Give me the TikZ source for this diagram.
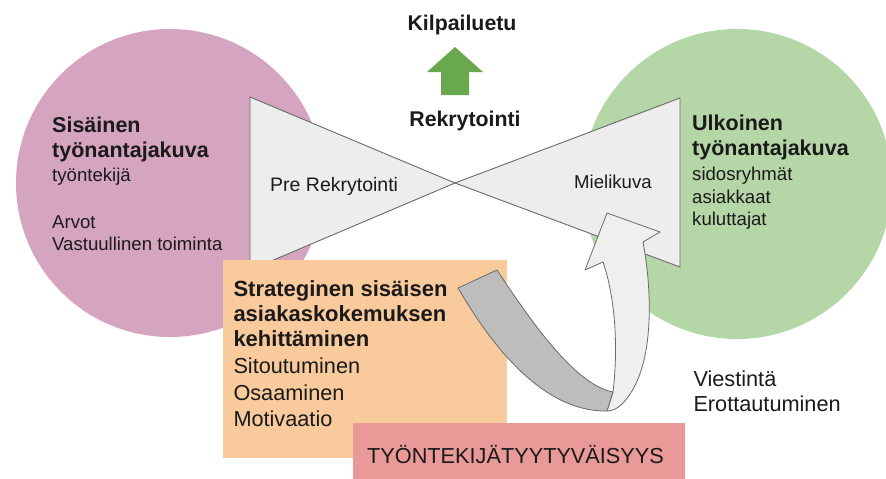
\documentclass[tikz,border=0pt]{standalone}
\usepackage{fontspec}
\setmainfont{Liberation Sans}
\definecolor{ink}{HTML}{1A1A1A}
\definecolor{innerpink}{HTML}{D5A4BF}
\definecolor{outergreen}{HTML}{B5D6A7}
\definecolor{funnelfill}{HTML}{EDEDED}
\definecolor{edgegray}{HTML}{6A6A6A}
\definecolor{uparrow}{HTML}{6AA84F}
\definecolor{stratorange}{HTML}{F9CB9C}
\definecolor{satred}{HTML}{EA9999}
\definecolor{ribbonback}{HTML}{BDBDBD}
\definecolor{ribbonfront}{HTML}{EFEFEF}
\tikzset{
  txt/.style={anchor=base west, inner sep=0pt, text=ink},
  headbold/.style={txt, font=\fontsize{21.5}{26}\selectfont\bfseries},
  smalltxt/.style={txt, font=\fontsize{18.6}{22}\selectfont},
  midtxt/.style={txt, font=\fontsize{21.7}{26}\selectfont},
  funnel/.style={fill=funnelfill, draw=edgegray, line width=0.9pt},
  ribbon/.style={draw=edgegray, line width=0.8pt, line join=round},
  panel/.style={anchor=north west, inner sep=0pt, draw=none},
}
\begin{document}
\begin{tikzpicture}[x=1pt,y=-1pt]
\useasboundingbox (0,0) rectangle (886,479);
\clip (0,0) rectangle (886,479);

% the two employer-image circles
\fill[innerpink] (170,183) circle[radius=154pt];
\fill[outergreen] (737,184) circle[radius=155pt];

% bow-tie funnel meeting at one point
\coordinate (apex) at (455,183);
\filldraw[funnel] (250,97) -- (apex) -- (250,270) -- cycle;
\filldraw[funnel] (680,98) -- (apex) -- (680,267) -- cycle;

% green arrow pointing up to the competitive advantage
\fill[uparrow] (455,47) -- (483,72) -- (469,72) -- (469,95) -- (441,95)
  -- (441,72) -- (427,72) -- cycle;

% strategy panel
\node[panel, fill=stratorange, minimum width=284pt, minimum height=198pt]
  (strat) at (223,260) {};

% twisted ribbon arrow: light front band with the head
\filldraw[ribbon, fill=ribbonfront]
  (613,392) .. controls (618,350) and (616,300) .. (603,262)
  -- (585,270) -- (607,213) -- (660,232) -- (643,242)
  .. controls (652,290) and (656,370) .. (622,404)
  .. controls (617,409) and (612,411) .. (607,411) -- cycle;
% darker back band
\filldraw[ribbon, fill=ribbonback]
  (458,288) -- (497,270) .. controls (530,320) and (575,385) .. (613,392)
  -- (607,411) .. controls (550,412) and (500,360) .. (458,288) -- cycle;

% satisfaction panel
\node[panel, fill=satred, minimum width=332pt, minimum height=56pt]
  (satbox) at (353,423) {};

% top labels
\node[txt, anchor=base, font=\fontsize{21.3}{26}\selectfont\bfseries] (kilp) at (462,30.5) {Kilpailuetu};
\node[txt, anchor=base, font=\fontsize{21.3}{26}\selectfont\bfseries] (rekr) at (465,126) {Rekrytointi};

% inner circle text
\node[headbold] (in1) at (52,132) {Sisäinen};
\node[headbold] (in2) at (52,157) {työnantajakuva};
\node[smalltxt] (in3) at (52,181.7) {työntekijä};
\node[smalltxt] (in4) at (52,228.3) {Arvot};
\node[smalltxt] (in5) at (52,250) {Vastuullinen toiminta};

% outer circle text
\node[headbold] (out1) at (692,130) {Ulkoinen};
\node[headbold] (out2) at (692,155) {työnantajakuva};
\node[smalltxt] (out3) at (692,180) {sidosryhmät};
\node[smalltxt] (out4) at (692,203) {asiakkaat};
\node[smalltxt] (out5) at (692,225) {kuluttajat};

% funnel labels
\node[txt, font=\fontsize{19.5}{23}\selectfont] (pre) at (270,191.7) {Pre Rekrytointi};
\node[smalltxt] (mieli) at (574,188.3) {Mielikuva};

% strategy panel text
\node[headbold, font=\fontsize{22}{26}\selectfont\bfseries] (st1) at (233.3,296.7) {Strateginen sisäisen};
\node[headbold, font=\fontsize{22}{26}\selectfont\bfseries] (st2) at (233.3,321.7) {asiakaskokemuksen};
\node[headbold, font=\fontsize{22}{26}\selectfont\bfseries] (st3) at (233.3,346.7) {kehittäminen};
\node[midtxt] (st4) at (233.3,373.3) {Sitoutuminen};
\node[midtxt] (st5) at (233.3,400) {Osaaminen};
\node[midtxt] (st6) at (233.3,426.7) {Motivaatio};

% communication text
\node[midtxt] (vi1) at (693.3,386.7) {Viestintä};
\node[midtxt] (vi2) at (693.3,411.7) {Erottautuminen};

% satisfaction text
\node[midtxt] (sat) at (367,463.3) {TYÖNTEKIJÄTYYTYVÄISYYS};
\end{tikzpicture}
\end{document}
